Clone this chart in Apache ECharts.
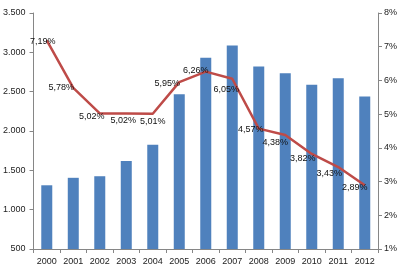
<!DOCTYPE html>
<html><head><meta charset="utf-8">
<script src="https://cdn.jsdelivr.net/npm/echarts@6/dist/echarts.min.js"></script>
<style>html,body{margin:0;padding:0;background:#fff}#c{width:401px;height:276px}</style>
</head><body><div id="c"></div>
<script>
var years = ['2000','2001','2002','2003','2004','2005','2006','2007','2008','2009','2010','2011','2012'];
var barValues = [1310, 1405, 1425, 1620, 1825, 2468, 2930, 3088, 2820, 2735, 2587, 2672, 2440];
var rateValues = [7.19, 5.78, 5.02, 5.02, 5.01, 5.95, 6.26, 6.05, 4.57, 4.38, 3.82, 3.43, 2.89];

// label placement tweaks (style only, not data)
var labelShift = [[-4,1],[-12,0],[-8,3],[-3,7],[0,8],[-12,1],[-10,-1],[-6,11],[-8,1],[-10,7],[-9,5],[-9,6],[-10,2]];

var font = 'Liberation Sans';
var lineData = rateValues.map(function(v, i){
  return {value: v, label: {offset: labelShift[i]}};
});
var chart = echarts.init(document.getElementById('c'));
chart.setOption({
  animation: false,
  grid: {left: 32, right: 23, top: 13, bottom: 27},
  xAxis: {
    type: 'category', data: years, boundaryGap: true,
    axisLine: {lineStyle: {color: '#868686'}},
    axisTick: {show: true, alignWithLabel: false, length: 4, lineStyle: {color: '#868686'}},
    axisLabel: {color: '#222', fontFamily: font, fontSize: 9, margin: 8, interval: 0}
  },
  yAxis: [{
    type: 'value', min: 500, max: 3500, interval: 500,
    splitLine: {show: false},
    axisLine: {show: true, lineStyle: {color: '#868686'}},
    axisTick: {show: true, length: 4, lineStyle: {color: '#868686'}},
    axisLabel: {color: '#222', fontFamily: font, fontSize: 9, margin: 8,
      formatter: function(v){ return String(v).replace(/\B(?=(\d{3})+(?!\d))/g, '.'); }}
  }, {
    type: 'value', min: 1, max: 8, interval: 1, position: 'right',
    splitLine: {show: false},
    axisLine: {show: true, lineStyle: {color: '#868686'}},
    axisTick: {show: true, length: 4, lineStyle: {color: '#868686'}},
    axisLabel: {color: '#222', fontFamily: font, fontSize: 9, margin: 6,
      formatter: function(v){ return v + '%'; }}
  }],
  series: [{
    type: 'bar', data: barValues, barWidth: 11,
    itemStyle: {color: '#4F81BD'}
  }, {
    type: 'line', yAxisIndex: 1, data: lineData,
    symbol: 'circle', symbolSize: 2, showSymbol: true,
    itemStyle: {color: 'rgba(0,0,0,0)', borderWidth: 0},
    lineStyle: {color: '#BE4B48', width: 2.5},
    label: {show: true, position: 'inside', color: '#111', fontFamily: font, fontSize: 9,
      formatter: function(p){ return p.value.toFixed(2).replace('.', ',') + '%'; }}
  }]
});
</script></body></html>
